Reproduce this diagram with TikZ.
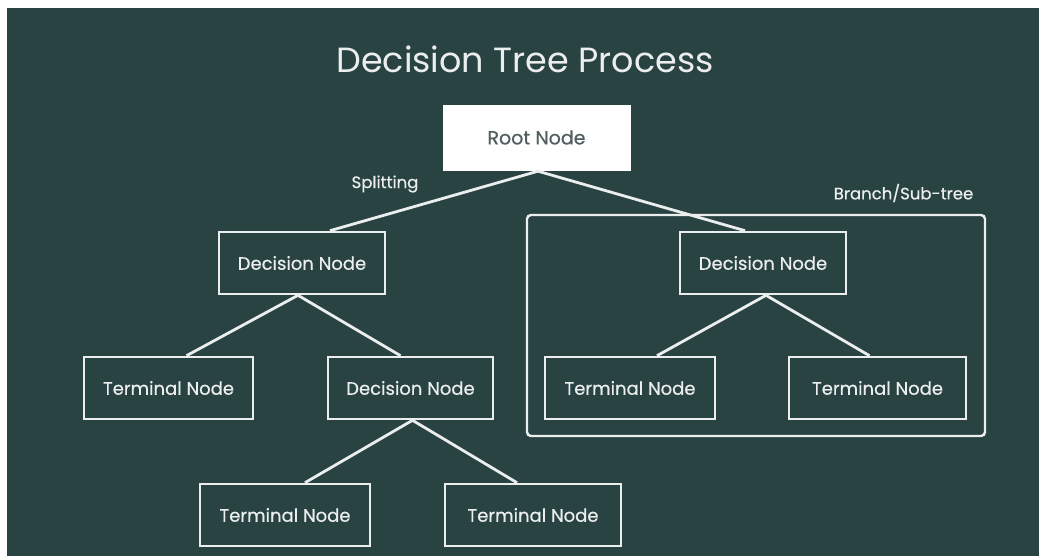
\documentclass[tikz,border=0pt]{standalone}
\usepackage{fontspec}
\setmainfont{Poppins}
\newfontfamily\medfont{Poppins}[FakeBold=0.5]
\usetikzlibrary{calc}
\definecolor{bgteal}{RGB}{41,67,67}
\definecolor{linecol}{RGB}{236,238,238}
\definecolor{rootText}{RGB}{80,94,94}
\tikzset{
  treebox/.style={draw=linecol, line width=2.6pt, rectangle, minimum height=62pt,
    text=linecol, font=\medfont\fontsize{18}{20}\selectfont, inner sep=0pt},
  rootbox/.style={fill=white, draw=white, rectangle, minimum width=187pt, minimum height=65pt,
    text=rootText, font=\medfont\fontsize{19}{21}\selectfont, inner sep=0pt},
  conn/.style={draw=linecol, line width=2.8pt},
  lbl/.style={text=linecol, font=\medfont\fontsize{16.5}{18}\selectfont, inner sep=0pt},
}
\begin{document}
\begin{tikzpicture}[x=1pt,y=-1pt]
\useasboundingbox (0,0) rectangle (1039,556);
\fill[white] (0,0) rectangle (1039,556);
\fill[bgteal] (7,8) rectangle (1039,556);

\node[text=linecol, font=\fontsize{35}{40}\selectfont, inner sep=0pt] (title) at (525,59) {Decision Tree Process};

\node[rootbox] (root) at (536.5,137.5) {Root Node};
\node[treebox, minimum width=166pt] (ld) at (302,263) {Decision Node};
\node[treebox, minimum width=166pt] (rd) at (763,263) {Decision Node};
\node[treebox, minimum width=169pt] (t1) at (168.5,388) {Terminal Node};
\node[treebox, minimum width=165pt] (d2) at (410.5,388) {Decision Node};
\node[treebox, minimum width=170pt] (t3) at (630,388) {Terminal Node};
\node[treebox, minimum width=177pt] (t4) at (877.5,388) {Terminal Node};
\node[treebox, minimum width=170pt] (t5) at (285,515) {Terminal Node};
\node[treebox, minimum width=176pt] (t6) at (533,515) {Terminal Node};

\node[lbl] (split) at (385,184) {Splitting};
\node[lbl] (branchlbl) at (903.5,193) {Branch/Sub-tree};
\node[draw=linecol, line width=2.4pt, rounded corners=4pt, minimum width=458pt, minimum height=221pt, inner sep=0pt] (branch) at (756,325.5) {};

\coordinate (rootapex) at ($(root.south)+(1.5,1)$);
\draw[conn] (rootapex) -- ($(ld.north)+(28,0)$);
\draw[conn] (rootapex) -- ($(rd.north)+(-18,0)$);
\draw[conn] ($(ld.south)+(-4,0)$) -- ($(t1.north)+(18,0)$);
\draw[conn] ($(ld.south)+(-4,0)$) -- ($(d2.north)+(-10,0)$);
\draw[conn] ($(d2.south)+(2,0)$) -- ($(t5.north)+(20,0)$);
\draw[conn] ($(d2.south)+(2,0)$) -- ($(t6.north)+(-16,0)$);
\draw[conn] ($(rd.south)+(3,0)$) -- ($(t3.north)+(27,0)$);
\draw[conn] ($(rd.south)+(3,0)$) -- ($(t4.north)+(-8,0)$);
\end{tikzpicture}
\end{document}
